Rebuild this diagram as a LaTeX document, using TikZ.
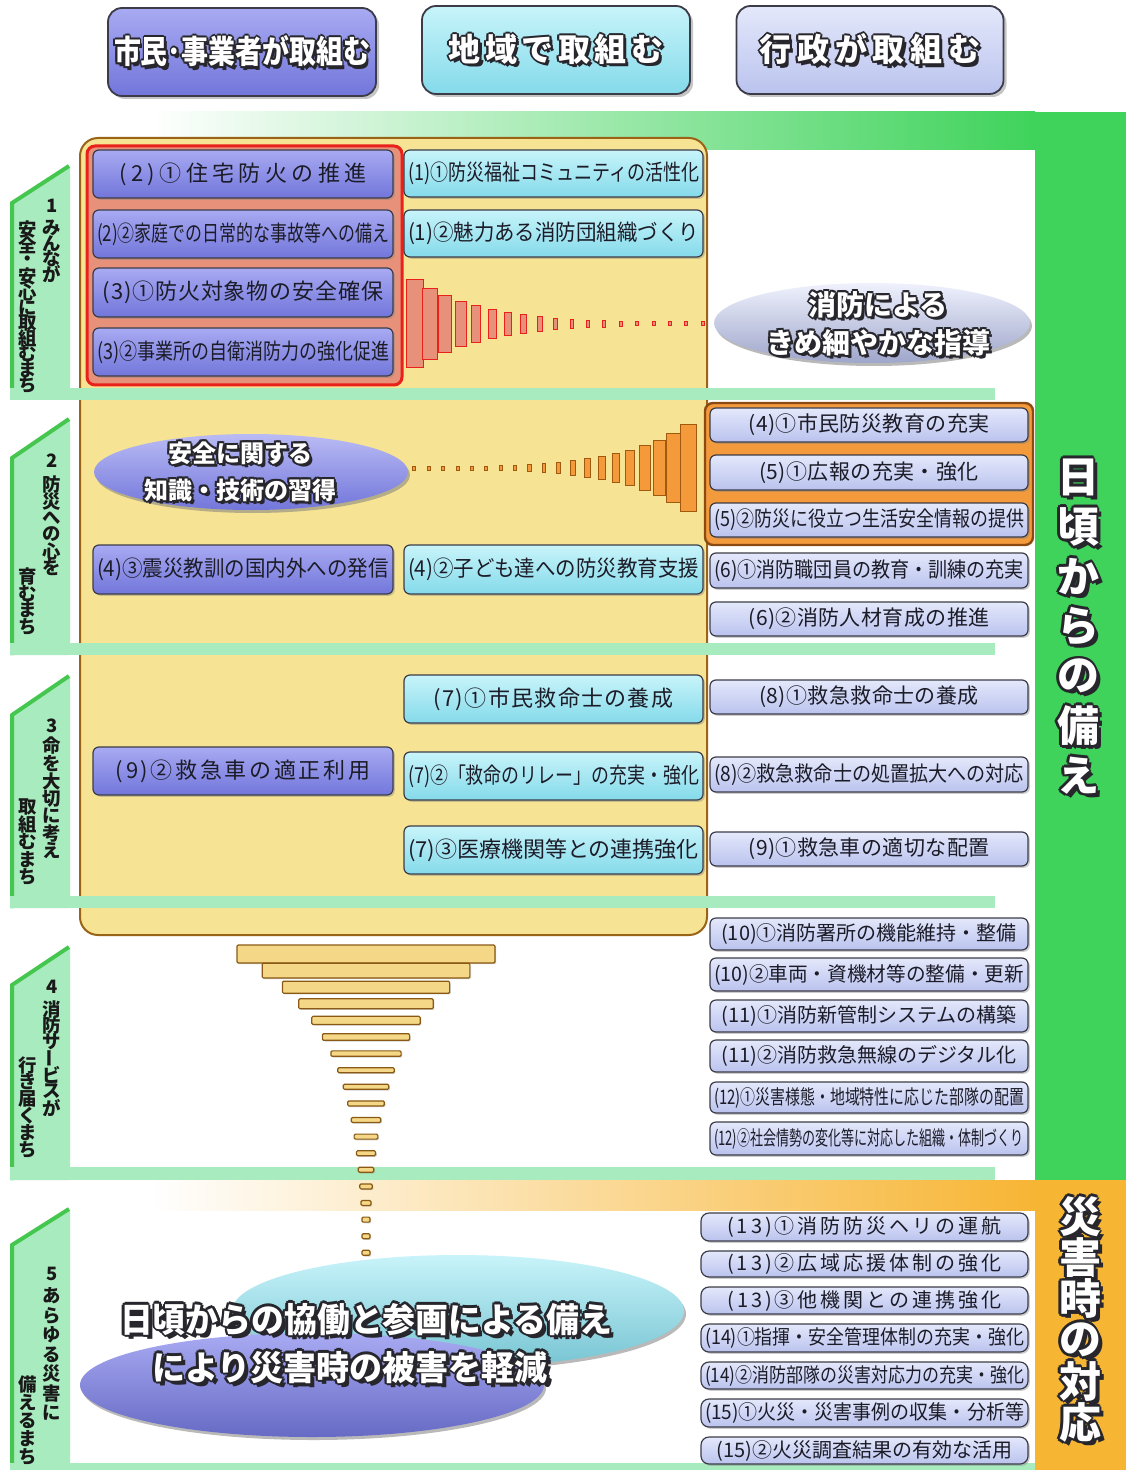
\documentclass[tikz,border=0pt]{standalone}
\usepackage{fontspec}
\usepackage{graphicx}
\usetikzlibrary{shapes.geometric,shadows}
\newfontfamily\jp{Noto Sans CJK JP}
\definecolor{grn}{HTML}{3FD35B}
\definecolor{lgrn}{HTML}{A8EBBE}
\definecolor{dgrn}{HTML}{45C64F}
\definecolor{org}{HTML}{F7B534}
\definecolor{yel}{HTML}{F6E393}
\definecolor{yelb}{HTML}{9A6418}
\definecolor{salm}{HTML}{E8917A}
\definecolor{redb}{HTML}{E8221A}
\definecolor{orbox}{HTML}{F29A3C}
\definecolor{orb}{HTML}{8A4A12}
\definecolor{pu1}{HTML}{A8AAF2}
\definecolor{pu2}{HTML}{7276DA}
\definecolor{cy1}{HTML}{C8F4FA}
\definecolor{cy2}{HTML}{84DAEA}
\definecolor{lv1}{HTML}{E4E8FB}
\definecolor{lv2}{HTML}{BAC3EE}
\definecolor{bdr}{HTML}{3C3C48}
\definecolor{txt}{HTML}{1C1C28}
\definecolor{olc}{HTML}{26262C}
\definecolor{ybar}{HTML}{F4D888}
\definecolor{ybarb}{HTML}{8A5A14}
\definecolor{obarf}{HTML}{F59A3A}
\definecolor{obarb}{HTML}{A05A10}
\newsavebox\fitbox
\newdimen\fitd
\newcommand\fitt[2]{\sbox\fitbox{#2}\fitd=\wd\fitbox\relax\ifdim\fitd>#1\relax\pgfmathsetmacro\fitr{#1/\the\fitd}\scalebox{\fitr}[1]{\usebox\fitbox}\else\usebox\fitbox\fi}
\newcommand\LS[1]{\addfontfeatures{LetterSpace=#1}}
\newlength\olw \setlength\olw{1pt}
\newcommand\ooff[2]{\rlap{\kern#1\raise#2\copy0}}
\newcommand\otxt[1]{{\setbox0\hbox{\textcolor{olc}{#1}}\setbox2\hbox{\textcolor{white}{#1}}\leavevmode\ooff{1.6\olw}{-1.6\olw}\ooff{\olw}{0pt}\ooff{-\olw}{0pt}\ooff{0pt}{\olw}\ooff{0pt}{-\olw}\ooff{.7\olw}{.7\olw}\ooff{-.7\olw}{.7\olw}\ooff{.7\olw}{-.7\olw}\ooff{-.7\olw}{-.7\olw}\copy2}}
\newcommand\bx[7]{%
 \pgfmathsetmacro\bw{(#5-#3)*0.5}%
 \pgfmathsetmacro\bh{(#6-#4)*0.5}%
 \pgfmathsetmacro\bt{(#5-#3)*0.5-4}%
 \node[#2,minimum width=\bw pt,minimum height=\bh pt] (#1) at ({(#3+#5)/2},{(#4+#6)/2}) {\fitt{\bt pt}{#7}};}
\newcommand\vcol[5]{\foreach \c [count=\k] in {#5} {\node[vch] (#1\k) at (#2,{#3+(\k-1)*#4}) {\c};}}
\tikzset{
 bxbase/.style={rectangle, rounded corners=3pt, draw=bdr, line width=0.6pt, inner sep=0pt, text=txt, drop shadow={shadow xshift=0.9pt, shadow yshift=-0.9pt, opacity=0.4}},
 pbox/.style={bxbase, top color=pu1, bottom color=pu2, font=\jp\fontsize{11}{12}\selectfont},
 cbox/.style={bxbase, top color=cy1, bottom color=cy2, font=\jp\fontsize{11}{12}\selectfont},
 lbox/.style={bxbase, top color=lv1, bottom color=lv2, font=\jp\fontsize{10.5}{11}\selectfont},
 lboxm/.style={lbox, font=\jp\fontsize{10}{11}\selectfont},
 lboxb/.style={lbox, font=\jp\fontsize{10}{11}\selectfont, rounded corners=4pt},
 hdr/.style={rectangle, rounded corners=7pt, draw=bdr, line width=0.9pt, inner sep=0pt, drop shadow={shadow xshift=1.5pt, shadow yshift=-1.5pt, opacity=0.45}, font=\jp\bfseries\fontsize{16}{18}\selectfont},
 ell/.style={ellipse, inner sep=0pt, draw=none, drop shadow={shadow xshift=1pt, shadow yshift=-1.5pt, opacity=0.55}},
 otx/.style={inner sep=0pt, align=center},
 vch/.style={inner sep=0pt, text=black!90, font=\jp\bfseries\fontsize{9.2}{9.2}\selectfont},
 vbig/.style={inner sep=0pt, font=\jp\bfseries\fontsize{21}{21}\selectfont},
 rbar/.style={fill=salm, draw=redb, line width=0.5pt},
 obar/.style={fill=obarf, draw=obarb, line width=0.5pt},
 ybarst/.style={fill=ybar, draw=ybarb, line width=0.6pt, rounded corners=0.6pt, drop shadow={shadow xshift=0.6pt, shadow yshift=-0.6pt, opacity=0.35}},
}
\begin{document}
\begin{tikzpicture}[x=0.5pt,y=-0.5pt]
\useasboundingbox (0,0) rectangle (1126,1470);
\fill[white] (0,0) rectangle (1126,1470);
% background bands
\shade[left color=white, middle color=grn!40, right color=grn] (150,112) rectangle (1035,150);
\fill[grn] (1035,112) rectangle (1126,1180);
\shade[left color=white, middle color=org!45, right color=org] (150,1180) rectangle (1035,1210);
\fill[org] (1035,1180) rectangle (1126,1470);
% tabs
\foreach \yt/\yr/\yb in {203/167/400, 458/420/655, 715/677/908, 985/948/1180, 1245/1210/1470}{
  \fill[lgrn] (10,\yt) -- (68,\yr) -- (70,\yr) -- (70,\yb) -- (10,\yb) -- cycle;
  \draw[dgrn, line width=2pt] (12,\yb) -- (12,\yt) -- (69,{\yr-1});
}
% yellow area
\draw[fill=yel, draw=yelb, line width=1pt, rounded corners=9pt] (80,138) rectangle (707,935);
% separators
\foreach \ya/\yb in {388/400, 643/655, 896/908, 1167/1180}{
  \fill[lgrn] (10,\ya) rectangle (995,\yb);
}
\fill[lgrn] (10,1463) rectangle (1035,1470);
% red and orange group boxes
\draw[fill=salm, draw=redb, line width=1.5pt, rounded corners=4pt] (87,146) rectangle (402,385);
\draw[fill=orbox, draw=orb, line width=1.2pt, rounded corners=4pt] (705,403) rectangle (1033,545);
% header boxes
\node[hdr, top color=pu1, bottom color=pu2, minimum width=134pt, minimum height=44pt] (h1) at (242,52) {\fitt{128pt}{\otxt{市民･事業者が取組む}}};
\node[hdr, top color=cy1, bottom color=cy2, minimum width=134pt, minimum height=44pt] (h2) at (556,50) {\fitt{110pt}{\otxt{\LS{14}地域で取組む}}};
\node[hdr, top color=lv1, bottom color=lv2, minimum width=133.5pt, minimum height=44pt] (h3) at (870,50) {\fitt{114pt}{\otxt{\LS{18}行政が取組む}}};
% column 1
\bx{p1}{pbox}{93}{150}{393}{198}{\LS{20}(2)①住宅防火の推進}
\bx{p2}{pbox}{93}{210}{393}{258}{(2)②家庭での日常的な事故等への備え}
\bx{p3}{pbox}{93}{268}{393}{317}{\LS{4}(3)①防火対象物の安全確保}
\bx{p4}{pbox}{93}{328}{393}{376}{(3)②事業所の自衛消防力の強化促進}
\bx{p5}{pbox}{93}{545}{393}{594}{(4)③震災教訓の国内外への発信}
\bx{p6}{pbox}{93}{747}{393}{795}{\LS{12}(9)②救急車の適正利用}
% column 2
\bx{c1}{cbox}{404}{150}{703}{197}{(1)①防災福祉コミュニティの活性化}
\bx{c2}{cbox}{404}{210}{703}{257}{(1)②魅力ある消防団組織づくり}
\bx{c3}{cbox}{404}{545}{703}{594}{(4)②子ども達への防災教育支援}
\bx{c4}{cbox}{404}{675}{703}{723}{\LS{6}(7)①市民救命士の養成}
\bx{c5}{cbox}{404}{752}{703}{800}{(7)②「救命のリレー」の充実・強化}
\bx{c6}{cbox}{404}{826}{703}{874}{(7)③医療機関等との連携強化}
% column 3
\bx{l1}{lbox}{710}{408}{1028}{442}{\LS{2}(4)①市民防災教育の充実}
\bx{l2}{lbox}{710}{455}{1028}{490}{\LS{2}(5)①広報の充実・強化}
\bx{l3}{lbox}{710}{503}{1028}{537}{(5)②防災に役立つ生活安全情報の提供}
\bx{l4}{lbox}{710}{553}{1028}{588}{(6)①消防職団員の教育・訓練の充実}
\bx{l5}{lbox}{710}{602}{1028}{636}{\LS{2}(6)②消防人材育成の推進}
\bx{l6}{lbox}{710}{680}{1028}{714}{\LS{2}(8)①救急救命士の養成}
\bx{l7}{lbox}{710}{757}{1028}{792}{(8)②救急救命士の処置拡大への対応}
\bx{l8}{lbox}{710}{832}{1028}{866}{\LS{2}(9)①救急車の適切な配置}
\bx{l9}{lboxm}{710}{918}{1028}{950}{(10)①消防署所の機能維持・整備}
\bx{l10}{lboxm}{710}{958}{1028}{991}{(10)②車両・資機材等の整備・更新}
\bx{l11}{lboxm}{710}{1000}{1028}{1032}{(11)①消防新管制システムの構築}
\bx{l12}{lboxm}{710}{1040}{1028}{1072}{(11)②消防救急無線のデジタル化}
\bx{l13}{lboxm}{710}{1082}{1028}{1113}{(12)①災害様態・地域特性に応じた部隊の配置}
\bx{l14}{lboxm}{710}{1122}{1028}{1155}{(12)②社会情勢の変化等に対応した組織・体制づくり}
\bx{l15}{lboxb}{701}{1213}{1028}{1241}{\LS{15}(13)①消防防災ヘリの運航}
\bx{l16}{lboxb}{701}{1251}{1028}{1277}{\LS{15}(13)②広域応援体制の強化}
\bx{l17}{lboxb}{701}{1287}{1028}{1314}{\LS{15}(13)③他機関との連携強化}
\bx{l18}{lboxb}{701}{1324}{1028}{1352}{(14)①指揮・安全管理体制の充実・強化}
\bx{l19}{lboxb}{701}{1362}{1028}{1389}{(14)②消防部隊の災害対応力の充実・強化}
\bx{l20}{lboxb}{701}{1399}{1028}{1427}{(15)①火災・災害事例の収集・分析等}
\bx{l21}{lboxb}{701}{1437}{1028}{1464}{(15)②火災調査結果の有効な活用}
% bars
\foreach \i in {0,...,18}{
  \pgfmathsetmacro\hh{max(4,88*0.8^\i)}
  \pgfmathsetmacro\ww{max(3,17*0.86^\i)}
  \pgfmathsetmacro\xl{406+16.4*\i}
  \filldraw[rbar] (\xl,{324-\hh/2}) rectangle ({\xl+\ww},{324+\hh/2});
}
\foreach \j in {0,...,19}{
  \pgfmathsetmacro\hh{max(4,87*0.8^\j)}
  \pgfmathsetmacro\ww{max(3,16*0.87^\j)}
  \pgfmathsetmacro\xc{688-14.4*\j}
  \filldraw[obar] ({\xc-\ww/2},{468-\hh/2}) rectangle ({\xc+\ww/2},{468+\hh/2});
}
\foreach \i in {0,...,18}{
  \pgfmathsetmacro\hh{max(5,18*0.82^\i)}
  \pgfmathsetmacro\ww{max(8,258*0.805^\i)}
  \pgfmathsetmacro\yc{954+16.6*\i}
  \filldraw[ybarst] ({366-\ww/2},{\yc-\hh/2}) rectangle ({366+\ww/2},{\yc+\hh/2});
}
% ellipses
\node[ell, top color=lv1!60!white, bottom color=lv2!85!black, minimum width=158pt, minimum height=40pt] (e1) at (872,323) {};
\node[otx, font=\jp\bfseries\fontsize{14}{19}\selectfont] (e1t) at (878,324) {\otxt{消防による}\\\otxt{きめ細やかな指導}};
\node[ell, top color=pu1!80!white, bottom color=pu2, minimum width=157pt, minimum height=38pt] (e2) at (251,472) {};
\node[otx, font=\jp\bfseries\fontsize{12}{18.5}\selectfont] (e2t) at (240,472) {\otxt{安全に関する}\\\otxt{知識・技術の習得}};
\node[ell, top color=cy1, bottom color=cy2!90!black, minimum width=226pt, minimum height=56pt] (e3) at (458,1311) {};
\node[ell, top color=pu1, bottom color=pu2!90!black, minimum width=232pt, minimum height=52pt] (e4) at (312,1385) {};
\setlength\olw{1.3pt}
\node[otx, font=\jp\bfseries\fontsize{17}{20}\selectfont] (b1) at (366,1320) {\fitt{246pt}{\otxt{日頃からの協働と参画による備え}}};
\node[otx, font=\jp\bfseries\fontsize{17}{20}\selectfont] (b2) at (350,1368) {\fitt{198pt}{\otxt{により災害時の被害を軽減}}};
% right vertical titles
\foreach \c [count=\k] in {日,頃,か,ら,の,備,え} {\node[vbig] (rv\k) at (1078,{478+(\k-1)*49.7}) {\otxt{\c}};}
\foreach \c [count=\k] in {災,害,時,の,対,応} {\node[vbig] (dv\k) at (1080,{1217+(\k-1)*41.2}) {\otxt{\c}};}
% left vertical labels
\node[vch] (n1) at (52,206) {1};
\vcol{s1r}{52}{228}{15.5}{み,ん,な,が}
\vcol{s1l}{28}{230}{15.5}{安,全,・,安,心,に,取,組,む,ま,ち}
\node[vch] (n2) at (52,461) {2};
\vcol{s2r}{52}{485}{16.5}{防,災,へ,の,心,を}
\vcol{s2l}{28}{577}{16.5}{育,む,ま,ち}
\node[vch] (n3) at (52,726) {3};
\vcol{s3r}{52}{746}{17.5}{命,を,大,切,に,考,え}
\vcol{s3l}{28}{807}{17.5}{取,組,む,ま,ち}
\node[vch] (n4) at (52,987) {4};
\vcol{s4r}{52}{1009}{16.5}{消,防,サ,{\rotatebox[origin=c]{90}{ー}},ビ,ス,が}
\vcol{s4l}{28}{1065}{17}{行,き,届,く,ま,ち}
\node[vch] (n5) at (52,1274) {5};
\vcol{s5r}{52}{1296}{19.5}{あ,ら,ゆ,る,災,害,に}
\vcol{s5l}{28}{1385}{18}{備,え,る,ま,ち}
\end{tikzpicture}
\end{document}
